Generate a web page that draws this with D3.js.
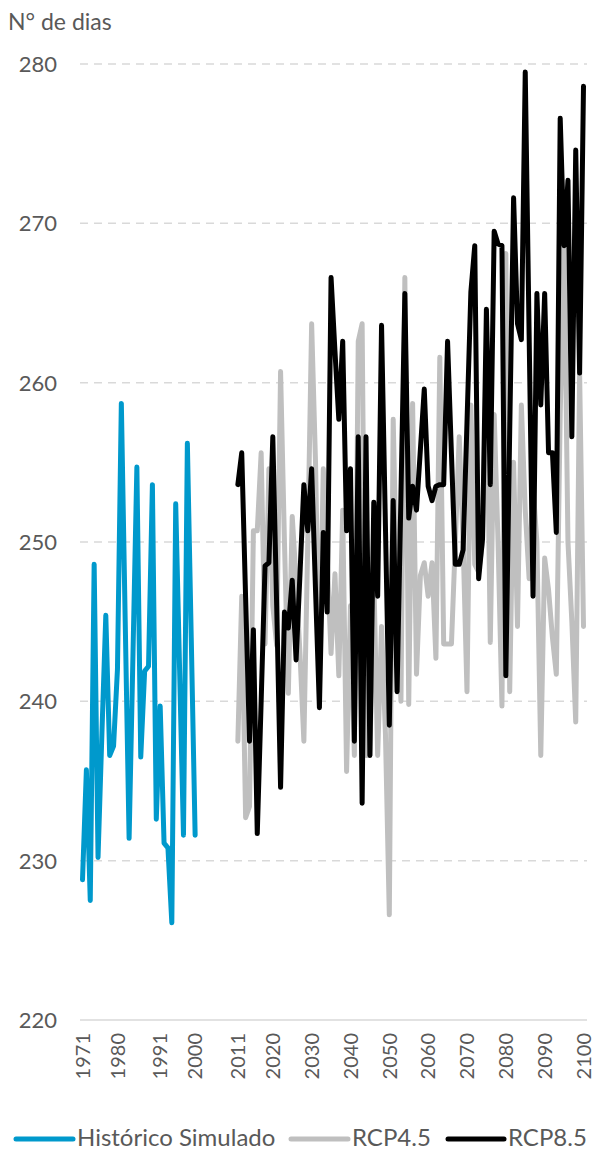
<!DOCTYPE html>
<html><head><meta charset="utf-8">
<script src="https://cdn.jsdelivr.net/npm/d3@7"></script>
<style>
html,body{margin:0;padding:0;background:#fff;}
text{font-family:Lato,"Noto Sans",sans-serif;fill:#595959;}
</style></head>
<body><svg id="chart" width="595" height="1151"></svg>
<script>
const histYears = d3.range(1971, 2001);
const histValues = [228.8,235.7,227.5,248.6,230.2,238.0,245.4,236.6,237.2,242.0,
  258.7,245.0,231.4,243.0,254.7,236.5,241.9,242.2,253.6,232.6,
  239.7,231.1,230.8,226.1,252.4,242.0,231.6,256.2,244.0,231.6];
const scenYears = d3.range(2011, 2101);
const rcp45Values = [237.5,246.6,232.7,233.4,250.7,250.7,255.6,243.6,254.6,246.0,
  243.5,260.7,250.0,240.5,251.6,247.6,243.0,237.5,250.0,263.7,
  255.0,241.5,254.6,249.0,243.0,248.0,241.6,252.0,235.6,246.0,
  236.6,262.6,263.7,236.6,236.6,248.0,236.6,244.7,238.0,226.6,
  257.7,246.0,240.0,266.6,239.8,258.7,241.7,247.9,248.7,246.6,
  248.7,242.7,261.6,243.6,243.6,243.6,250.0,256.6,250.0,240.6,
  258.6,248.6,248.1,250.0,262.0,243.7,258.0,250.0,239.7,268.1,
  240.6,255.0,244.7,258.6,252.0,247.7,253.5,250.0,236.6,249.0,
  247.0,244.0,241.7,258.0,268.6,250.0,245.0,238.7,260.6,244.7];
const rcp85Values = [253.6,255.6,246.5,237.5,244.5,231.7,240.0,248.5,248.7,256.6,
  246.0,234.6,245.6,244.6,247.6,242.6,248.0,253.6,250.7,254.6,
  247.0,239.6,250.6,245.6,266.6,262.0,257.7,262.6,250.7,254.6,
  237.5,256.6,233.6,256.6,236.6,252.5,246.6,263.6,251.0,238.5,
  252.6,240.6,253.0,265.6,251.5,253.5,252.0,255.8,259.6,253.5,
  252.6,253.5,253.6,253.6,262.6,255.5,248.6,248.6,249.5,257.5,
  265.7,268.6,247.7,250.2,264.6,253.6,269.5,268.7,268.6,241.6,
  257.0,271.6,263.7,262.7,279.5,263.0,246.6,265.6,258.6,265.6,
  255.6,255.6,250.6,276.6,268.6,272.7,256.6,274.6,260.6,278.6];
const yTicks = [220,230,240,250,260,270,280];
const xTickYears = [1971,1980,1991,2000,2011,2020,2030,2040,2050,2060,2070,2080,2090,2100];
const seriesNames = ["Histórico Simulado","RCP4.5","RCP8.5"];
const seriesColors = ["#0099CC","#BFBFBF","#000000"];

const svg = d3.select("#chart");
const x = d3.scaleLinear().domain([1971, 2100]).range([82.5, 583.5]);
const y = d3.scaleLinear().domain([220, 280]).range([1020, 64]);

svg.append("text").attr("x", 8).attr("y", 30).attr("font-size", 23).text("N° de dias");

// grid
svg.append("g").selectAll("line").data(yTicks.filter(t => t > 220)).join("line")
  .attr("x1", 80).attr("x2", 587).attr("y1", d => y(d)).attr("y2", d => y(d))
  .attr("stroke", "#d9d9d9").attr("stroke-width", 1.5).attr("stroke-dasharray", "8,6");
svg.append("line").attr("x1", 80).attr("x2", 587).attr("y1", y(220)).attr("y2", y(220))
  .attr("stroke", "#d9d9d9").attr("stroke-width", 1.5);

// y labels
svg.append("g").selectAll("text").data(yTicks).join("text")
  .attr("x", 57).attr("y", d => y(d)).attr("dy", "0.36em")
  .attr("text-anchor", "end").attr("font-size", 22).text(d => d);

// x labels
svg.append("g").selectAll("text").data(xTickYears).join("text")
  .attr("transform", d => `translate(${x(d)},1033) rotate(-90)`)
  .attr("dy", "0.36em").attr("text-anchor", "end").attr("font-size", 20).text(d => d);

const line = d3.line().x(d => x(d[0])).y(d => y(d[1]));
const series = [
  {years: scenYears, vals: rcp45Values, color: seriesColors[1]},
  {years: scenYears, vals: rcp85Values, color: seriesColors[2]},
  {years: histYears, vals: histValues, color: seriesColors[0]}
];
svg.append("g").selectAll("path").data(series).join("path")
  .attr("d", s => line(s.years.map((yr, i) => [yr, s.vals[i]])))
  .attr("fill", "none").attr("stroke", s => s.color).attr("stroke-width", 5)
  .attr("stroke-linejoin", "round").attr("stroke-linecap", "round");

// legend
const legendItems = [
  {name: seriesNames[0], color: seriesColors[0], x1: 16, x2: 73, tx: 77},
  {name: seriesNames[1], color: seriesColors[1], x1: 291, x2: 348, tx: 352},
  {name: seriesNames[2], color: seriesColors[2], x1: 448, x2: 504, tx: 508}
];
const lg = svg.append("g").selectAll("g").data(legendItems).join("g");
lg.append("line").attr("x1", d => d.x1).attr("x2", d => d.x2).attr("y1", 1139).attr("y2", 1139)
  .attr("stroke", d => d.color).attr("stroke-width", 5).attr("stroke-linecap", "round");
lg.append("text").attr("x", d => d.tx).attr("y", 1146)
  .attr("font-size", 24).text(d => d.name);
</script></body></html>
